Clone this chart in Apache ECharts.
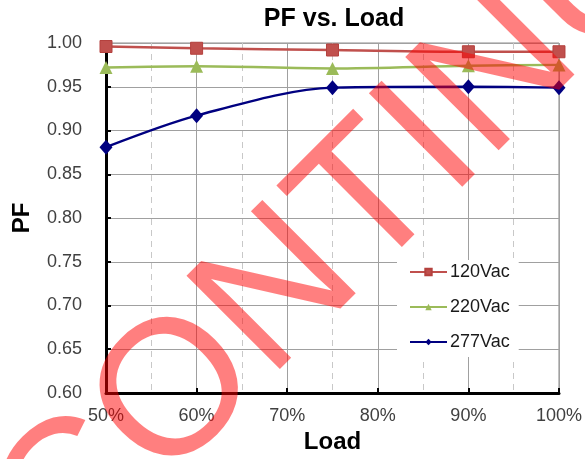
<!DOCTYPE html>
<html>
<head>
<meta charset="utf-8">
<script src="https://cdn.jsdelivr.net/npm/echarts@6/dist/echarts.min.js"></script>
<style>
html,body{margin:0;padding:0;background:#fff;}
#c{width:585px;height:459px;}
</style>
</head>
<body>
<div id="c"></div>
<script>
var titleText = 'PF vs. Load';
var xName = 'Load';
var yName = 'PF';
var watermark = 'DISCONTINUED';
var loads = [50, 60, 75, 90, 100];
var seriesNames = ['120Vac', '220Vac', '277Vac'];
var pf120 = [0.996, 0.994, 0.992, 0.990, 0.990];
var pf220 = [0.972, 0.9735, 0.971, 0.974, 0.975];
var pf277 = [0.881, 0.917, 0.949, 0.950, 0.949];

function pairs(ys) { return loads.map(function (x, i) { return [x, ys[i]]; }); }

var FONT = "'Liberation Sans', Arial, sans-serif";
var chart = echarts.init(document.getElementById('c'), null, { renderer: 'canvas' });
chart.setOption({
  animation: false,
  backgroundColor: '#ffffff',
  title: {
    text: titleText,
    left: 334, top: 7, textAlign: 'center', padding: 0,
    textStyle: { fontFamily: FONT, fontSize: 25, fontWeight: 'bold', color: '#000' }
  },
  grid: {
    left: 106, right: 23, top: 43, bottom: 64,
    show: true, borderColor: '#8c8c8c', borderWidth: 1, backgroundColor: 'transparent'
  },
  legend: {
    orient: 'vertical',
    left: 397, top: 260,
    padding: [3, 9, 6, 12],
    backgroundColor: '#ffffff',
    itemWidth: 37, itemHeight: 8, itemGap: 17,
    textStyle: { fontFamily: FONT, fontSize: 18, color: '#1a1a1a', padding: [0, 0, 0, -2] },
    data: seriesNames
  },
  xAxis: {
    type: 'value', min: 50, max: 100, interval: 10,
    name: xName, nameLocation: 'middle', nameGap: 37,
    nameTextStyle: { fontFamily: FONT, fontSize: 24, fontWeight: 'bold', color: '#000' },
    axisLine: { show: true, onZero: false, lineStyle: { color: '#000', width: 3 } },
    axisTick: { show: true, inside: true, length: 5, lineStyle: { color: '#000', width: 2 } },
    axisLabel: { fontFamily: FONT, fontSize: 18, color: '#404040', margin: 14,
      formatter: function (v) { return v + '%'; } },
    splitLine: { show: true, lineStyle: { color: '#a0a0a0', width: 1 } },
    minorTick: { show: false, splitNumber: 2 },
    minorSplitLine: { show: true, lineStyle: { color: '#c8c8c8', width: 1, type: [6, 5] } }
  },
  yAxis: {
    type: 'value', min: 0.6, max: 1.0, interval: 0.05,
    name: yName, nameLocation: 'middle', nameRotate: 90, nameGap: 72,
    nameTextStyle: { fontFamily: FONT, fontSize: 24, fontWeight: 'bold', color: '#000' },
    axisLine: { show: true, onZero: false, lineStyle: { color: '#000', width: 3 } },
    axisTick: { show: true, inside: true, length: 5, lineStyle: { color: '#000', width: 2 } },
    axisLabel: { fontFamily: FONT, fontSize: 18, color: '#404040', margin: 24,
      formatter: function (v) { return v.toFixed(2); } },
    splitLine: { show: true, lineStyle: { color: '#a0a0a0', width: 1 } }
  },
  series: [
    { name: seriesNames[0], type: 'line', data: pairs(pf120), smooth: 0.3,
      symbol: 'rect', symbolSize: 12,
      lineStyle: { color: '#c0504d', width: 2.5 },
      itemStyle: { color: '#c0504d', borderColor: '#b4413e', borderWidth: 1 }, z: 3 },
    { name: seriesNames[1], type: 'line', data: pairs(pf220), smooth: 0.3,
      symbol: 'triangle', symbolSize: 13,
      lineStyle: { color: '#9bbb59', width: 2.5 },
      itemStyle: { color: '#9bbb59' }, z: 3 },
    { name: seriesNames[2], type: 'line', data: pairs(pf277), smooth: 0.3,
      symbol: 'diamond', symbolSize: [13, 15],
      lineStyle: { color: '#000080', width: 2.5 },
      itemStyle: { color: '#000080' }, z: 3 }
  ],
  graphic: [{
    type: 'text', x: 318, y: 256, rotation: Math.PI / 4, z: 100, silent: true,
    style: {
      text: watermark, fontSize: 192, fontFamily: FONT, fontWeight: 'normal',
      fill: 'rgba(255,0,0,0.5)',
      align: 'center', verticalAlign: 'middle',
      textAlign: 'center', textVerticalAlign: 'middle'
    }
  }]
});
</script>
</body>
</html>
